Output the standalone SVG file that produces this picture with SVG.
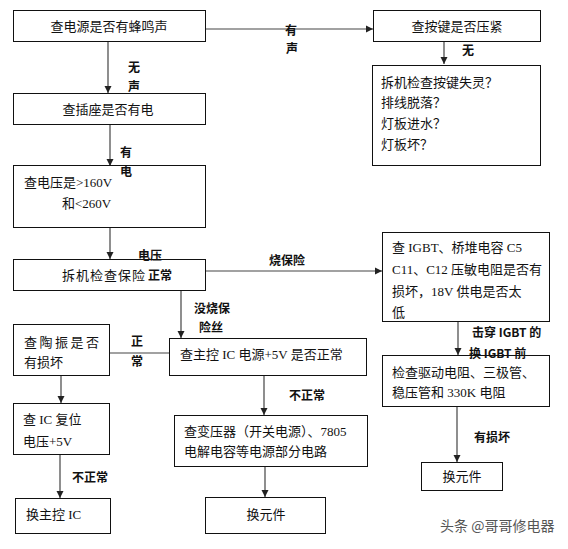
<svg xmlns="http://www.w3.org/2000/svg" width="568" height="549" viewBox="0 0 568 549">
<defs>
<marker id="ah" markerWidth="8" markerHeight="8" refX="7" refY="4" orient="auto" markerUnits="userSpaceOnUse">
<path d="M0,0.5 L7,4 L0,7.5 Z" fill="#222"/>
</marker>
<style>
.box{fill:#fff;stroke:#111;stroke-width:1}
.t{font-family:"Liberation Serif","Noto Sans CJK SC",serif;font-size:13px;fill:#111}
.lb{font-family:"Noto Sans CJK SC",sans-serif;font-size:12px;font-weight:bold;fill:#111}
.c{stroke:#444;stroke-width:1.2;fill:none}
.ca{stroke:#444;stroke-width:1.2;fill:none;marker-end:url(#ah)}
.wm{font-family:"Noto Sans CJK SC",sans-serif;font-size:14px;fill:#555;stroke:#fff;stroke-width:0.6;paint-order:stroke}
</style>
</defs>
<rect width="568" height="549" fill="#fff"/>
<g id="connectors">
<line class="ca" x1="206" y1="29" x2="373" y2="29"/>
<line class="ca" x1="108" y1="42" x2="108" y2="93"/>
<line class="ca" x1="110" y1="124" x2="110" y2="166"/>
<line class="ca" x1="110" y1="228" x2="110" y2="259"/>
<line class="ca" x1="444" y1="42" x2="444" y2="64"/>
<line class="ca" x1="206" y1="271" x2="382" y2="271"/>
<line class="ca" x1="181" y1="290" x2="181" y2="338"/>
<line class="ca" x1="458" y1="322" x2="458" y2="355"/>
<line class="ca" x1="457" y1="406" x2="457" y2="462"/>
<line class="c" x1="110" y1="353" x2="169" y2="353"/>
<line class="ca" x1="61" y1="376" x2="61" y2="403"/>
<line class="ca" x1="60" y1="455" x2="60" y2="498"/>
<line class="ca" x1="264" y1="375" x2="264" y2="415"/>
<line class="ca" x1="265" y1="467" x2="265" y2="497"/>
</g>
<g id="n1"><rect class="box" x="13.5" y="10.5" width="192" height="31"/><text class="t" x="109" y="30.5" text-anchor="middle">查电源是否有蜂鸣声</text></g>
<g id="n2"><rect class="box" x="13.5" y="93.5" width="192" height="31"/><text class="t" x="108" y="113.5" text-anchor="middle">查插座是否有电</text></g>
<g id="n3"><rect class="box" x="13.5" y="165.5" width="192" height="62"/><text class="t" x="24" y="186.5">查电压是&gt;160V</text><text class="t" x="62" y="207.5">和&lt;260V</text></g>
<g id="n4"><rect class="box" x="13.5" y="259.5" width="192" height="31"/><text class="t" x="62" y="279.5" letter-spacing="1">拆机检查保险</text></g>
<g id="n5"><rect class="box" x="373.5" y="10.5" width="167" height="31"/><text class="t" x="457" y="30.5" text-anchor="middle">查按键是否压紧</text></g>
<g id="n6"><rect class="box" x="372.5" y="65.5" width="168" height="100"/><text class="t" x="381" y="86.5">拆机检查按键失灵？</text><text class="t" x="381" y="106.5">排线脱落？</text><text class="t" x="381" y="127.5">灯板进水？</text><text class="t" x="381" y="148.5">灯板坏？</text></g>
<g id="n7"><rect class="box" x="382.5" y="232.5" width="167" height="89"/><text class="t" x="392" y="251.5">查 IGBT、桥堆电容 C5</text><text class="t" x="392" y="273.5">C11、C12 压敏电阻是否有</text><text class="t" x="392" y="295.5">损坏，18V 供电是否太</text><text class="t" x="392" y="316.5">低</text></g>
<g id="n8"><rect class="box" x="382.5" y="355.5" width="167" height="51"/><text class="t" x="392" y="376.5">检查驱动电阻、三极管、</text><text class="t" x="392" y="396.5">稳压管和 330K 电阻</text></g>
<g id="n9"><rect class="box" x="421.5" y="462.5" width="81" height="28"/><text class="t" x="462" y="480.5" text-anchor="middle">换元件</text></g>
<g id="n10"><rect class="box" x="169.5" y="338.5" width="197" height="37"/><text class="t" x="180" y="358.5">查主控 IC 电源+5V 是否正常</text></g>
<g id="n11"><rect class="box" x="174.5" y="415.5" width="193" height="51"/><text class="t" x="184" y="435.5">查变压器（开关电源）、7805</text><text class="t" x="184" y="455.5">电解电容等电源部分电路</text></g>
<g id="n12"><rect class="box" x="205.5" y="497.5" width="120" height="36"/><text class="t" x="266" y="518.5" text-anchor="middle">换元件</text></g>
<g id="n13"><rect class="box" x="13.5" y="324.5" width="96" height="51"/><text class="t" x="24" y="346.5" letter-spacing="2.5">查陶振是否</text><text class="t" x="24" y="366.5">有损坏</text></g>
<g id="n14"><rect class="box" x="13.5" y="403.5" width="96" height="51"/><text class="t" x="23" y="423.5">查 IC 复位</text><text class="t" x="23" y="445.5">电压+5V</text></g>
<g id="n15"><rect class="box" x="15.5" y="498.5" width="95" height="35"/><text class="t" x="26" y="518.5">换主控 IC</text></g>
<g id="labels">
<text class="lb" x="285" y="35">有</text>
<text class="lb" x="286" y="53">声</text>
<text class="lb" x="128" y="72">无</text>
<text class="lb" x="128" y="91">声</text>
<text class="lb" x="120" y="157">有</text>
<text class="lb" x="120" y="176">电</text>
<text class="lb" x="462" y="55">无</text>
<text class="lb" x="138" y="260">电压</text>
<text class="lb" x="148" y="280">正常</text>
<text class="lb" x="269" y="265">烧保险</text>
<text class="lb" x="194" y="313">没烧保</text>
<text class="lb" x="199" y="332">险丝</text>
<text class="lb" x="131" y="346">正</text>
<text class="lb" x="131" y="366">常</text>
<text class="lb" x="289" y="400">不正常</text>
<text class="lb" x="72" y="482">不正常</text>
<text class="lb" x="472" y="337">击穿 IGBT 的</text>
<text class="lb" x="469" y="358">换 IGBT 前</text>
<text class="lb" x="474" y="442">有损坏</text>
</g>
<text class="wm" x="440" y="531">头条 @哥哥修电器</text>
</svg>
